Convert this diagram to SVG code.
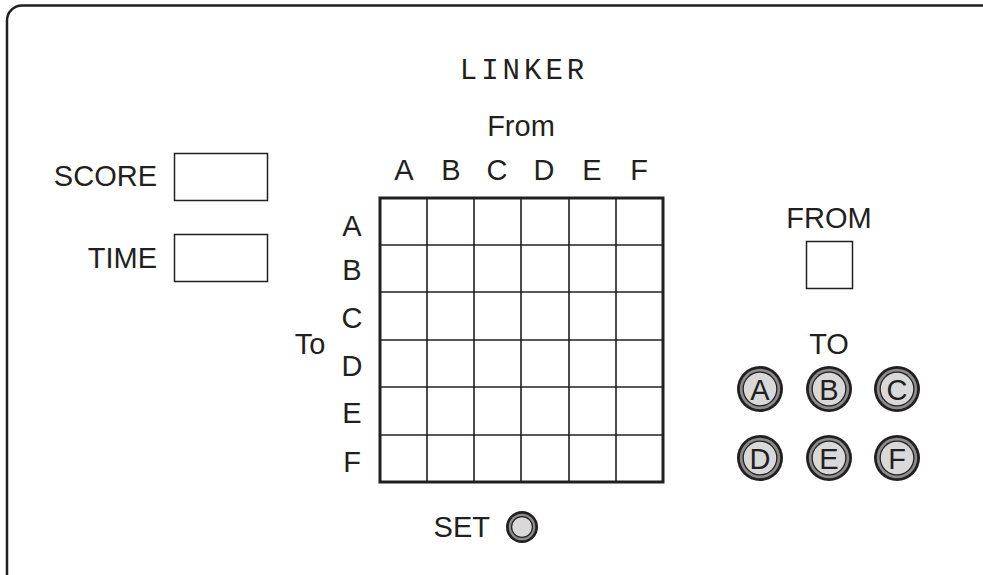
<svg xmlns="http://www.w3.org/2000/svg" width="983" height="575" viewBox="0 0 983 575">
<style>
text{font-family:"Liberation Sans",Arial,sans-serif;fill:#231f20;font-size:29px}
.c{text-anchor:middle}
.r{text-anchor:end}
.box{fill:#fff;stroke:#231f20;stroke-width:1.5}
.cell{stroke:#231f20;stroke-width:1.6;fill:none}
.b1{fill:#231f20}
.b2{fill:#8c8c8c}
.b3{fill:#231f20}
.b4{fill:#d9d9da}
.bl{font-size:29px}
</style>
<rect x="7" y="5.5" width="990" height="600" rx="15" fill="#fff" stroke="#231f20" stroke-width="2.5"/>
<g id="title"><text x="524" y="79" class="c" style="font-family:'Liberation Mono',monospace;font-size:29px;letter-spacing:4px">LINKER</text></g>
<g id="from-label"><text x="521" y="136" class="c">From</text></g>
<g id="to-label"><text x="310" y="354" class="c">To</text></g>
<g id="score"><text x="157" y="186" class="r">SCORE</text><rect class="box" x="174.5" y="153.5" width="93" height="47"/></g>
<g id="time"><text x="157" y="268" class="r">TIME</text><rect class="box" x="174.5" y="234.5" width="93" height="47"/></g>
<g id="grid">
<g class="cols">
<text x="404" y="180" class="c">A</text><text x="451" y="180" class="c">B</text><text x="497" y="180" class="c">C</text><text x="544" y="180" class="c">D</text><text x="592" y="180" class="c">E</text><text x="639" y="180" class="c">F</text>
</g>
<g class="rows">
<text x="352" y="236" class="c">A</text><text x="352" y="280" class="c">B</text><text x="352" y="328" class="c">C</text><text x="352" y="376" class="c">D</text><text x="352" y="423" class="c">E</text><text x="352" y="472" class="c">F</text>
</g>
<path class="cell" d="M427 198V482M474 198V482M521 198V482M569 198V482M616 198V482M380 245H663M380 292H663M380 340H663M380 387H663M380 435H663"/>
<rect x="380" y="198" width="283" height="284" fill="none" stroke="#231f20" stroke-width="3"/>
</g>
<g id="from"><text x="829" y="228" class="c">FROM</text><rect class="box" x="806.5" y="241.5" width="46" height="47"/></g>
<g id="to"><text x="829" y="354" class="c">TO</text></g>
<defs>
<g id="btn"><circle r="23" class="b1"/><circle r="20.2" class="b2"/><circle r="17.5" class="b3"/><circle r="16.2" class="b4"/></g>
<g id="sbtn"><circle r="16" class="b1"/><circle r="13.3" class="b2"/><circle r="11" class="b3"/><circle r="9.8" class="b4"/></g>
</defs>
<g id="btn-A"><use href="#btn" x="760" y="389"/><text x="760" y="399.5" class="c bl">A</text></g>
<g id="btn-B"><use href="#btn" x="829" y="389"/><text x="829" y="399.5" class="c bl">B</text></g>
<g id="btn-C"><use href="#btn" x="897" y="389"/><text x="897" y="399.5" class="c bl">C</text></g>
<g id="btn-D"><use href="#btn" x="760" y="458"/><text x="760" y="468.5" class="c bl">D</text></g>
<g id="btn-E"><use href="#btn" x="829" y="458"/><text x="829" y="468.5" class="c bl">E</text></g>
<g id="btn-F"><use href="#btn" x="897" y="458"/><text x="897" y="468.5" class="c bl">F</text></g>
<g id="set"><text x="490" y="537" class="r">SET</text><use href="#sbtn" x="522" y="527"/></g>
<g id="connectors"></g>
</svg>
